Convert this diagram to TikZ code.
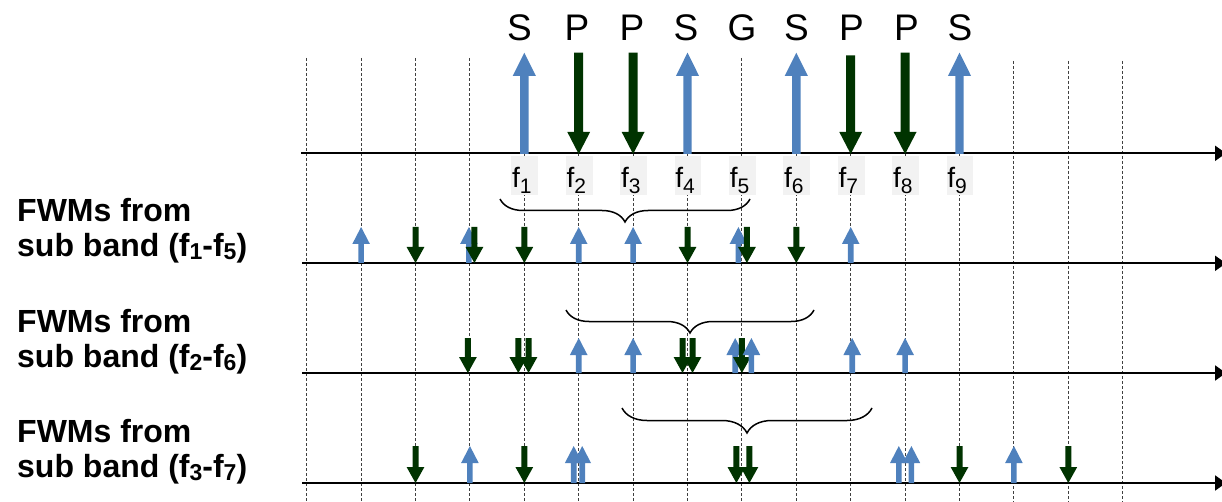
\documentclass[tikz,border=0pt]{standalone}
\usepackage{fontspec}
\setmainfont{Liberation Sans}
\usetikzlibrary{arrows.meta,decorations.pathreplacing}
\definecolor{sblue}{RGB}{79,129,189}
\definecolor{pgreen}{RGB}{0,51,0}
\definecolor{lblgray}{RGB}{242,242,242}
% up block arrow: x, base y, tip y, half shaft, half head, head length
\newcommand\UpA[6]{\fill[sblue] ({#1-#4},{#2}) -- ({#1-#4},{#3+#6}) -- ({#1-#5},{#3+#6}) -- ({#1},{#3}) -- ({#1+#5},{#3+#6}) -- ({#1+#4},{#3+#6}) -- ({#1+#4},{#2}) -- cycle;}
% down block arrow: x, top y, tip y, half shaft, half head, head length
\newcommand\DnA[6]{\fill[pgreen] ({#1-#4},{#2}) -- ({#1-#4},{#3-#6}) -- ({#1-#5},{#3-#6}) -- ({#1},{#3}) -- ({#1+#5},{#3-#6}) -- ({#1+#4},{#3-#6}) -- ({#1+#4},{#2}) -- cycle;}
% small arrows: x, base y, length
\newcommand\SU[3]{\UpA{#1}{#2}{#2-#3}{2.8}{8.8}{17}}
\newcommand\SD[3]{\DnA{#1}{#2-#3}{#2}{3}{8.9}{16}}
\newcommand\fsub[1]{\raisebox{-6pt}{\fontsize{21}{21}\selectfont #1}}
\newcommand\lsub[1]{\raisebox{-3pt}{\fontsize{23}{23}\selectfont #1}}
\begin{document}
\begin{tikzpicture}[x=1pt,y=-1pt,
  gridline/.style={black!75,line width=0.9pt,dash pattern=on 3pt off 2pt},
  axisline/.style={black,line width=2pt,-{Triangle[length=11pt,width=15pt]}},
  fbox/.style={fill=lblgray,minimum width=26.7pt,minimum height=39pt,inner sep=0pt},
  flabel/.style={inner sep=0pt,font=\fontsize{28}{28}\selectfont},
  toplbl/.style={inner sep=0pt,font=\fontsize{37}{37}\selectfont},
  rowlbl/.style={inner sep=0pt,font=\fontsize{32}{32}\selectfont\bfseries},
  bracepath/.style={black,line width=1.5pt,decorate,decoration={brace,mirror,amplitude=#1}}]
\useasboundingbox (0,0) rectangle (1222,502);
\clip (0,0) rectangle (1222,502);

% dashed grid
\foreach \k in {0,...,12} {\draw[gridline] ({306.7+54.4*\k},58) -- ({306.7+54.4*\k},502);}
\foreach \k in {13,14,15} {\draw[gridline] ({306.7+54.4*\k},61) -- ({306.7+54.4*\k},502);}

% axes
\coordinate (a0s) at (301,153.3); \coordinate (a0e) at (1226,153.3);
\coordinate (a1s) at (302,263.3); \coordinate (a1e) at (1226,263.3);
\coordinate (a2s) at (302,373); \coordinate (a2e) at (1226,373);
\coordinate (a3s) at (302,483); \coordinate (a3e) at (1226,483);
\draw[axisline] (a0s) -- (a0e);
\draw[axisline] (a1s) -- (a1e);
\draw[axisline] (a2s) -- (a2e);
\draw[axisline] (a3s) -- (a3e);

% frequency label boxes and labels
\foreach \i [evaluate=\i as \cx using {306.7+54.4*(\i+3)+0.5}] in {1,...,9} {
  \node[fbox] (b\i) at (\cx,175.5) {};
  \node[flabel,anchor=base west] (f\i) at (\cx-12.8,188) {f\fsub{\i}};
}

% big arrows
\UpA{524.3}{154}{52.7}{4.2}{11.6}{23.3}
\DnA{578.7}{52.7}{154}{4.5}{11.4}{22}
\DnA{633.1}{52.7}{154}{4.5}{11.4}{22}
\UpA{687.5}{154}{52.7}{4.2}{11.6}{23.3}
\UpA{796.3}{154}{52.7}{4.2}{11.6}{23.3}
\DnA{850.7}{55.5}{154}{4.5}{11.4}{22}
\DnA{905.1}{52.7}{154}{4.5}{11.4}{22}
\UpA{959.5}{154}{52.7}{4.2}{11.6}{23.3}

% top letters
\node[toplbl,anchor=base] (t1) at (519.5,40.7) {S};
\node[toplbl,anchor=base] (t2) at (577,40.7) {P};
\node[toplbl,anchor=base] (t3) at (632,40.7) {P};
\node[toplbl,anchor=base] (t4) at (686,40.7) {S};
\node[toplbl,anchor=base] (t5) at (742,40.7) {G};
\node[toplbl,anchor=base] (t6) at (796.5,40.7) {S};
\node[toplbl,anchor=base] (t7) at (851.5,40.7) {P};
\node[toplbl,anchor=base] (t8) at (906.5,40.7) {P};
\node[toplbl,anchor=base] (t9) at (960,40.7) {S};

% row 1 FWMs (f1-f5)
\SU{361.1}{263}{36}
\SD{415.5}{263}{36}
\SU{468.9}{263}{36}
\SD{474.4}{263}{36}
\SD{524.3}{263}{36}
\SU{578.7}{263}{36}
\SU{633.1}{263}{36}
\SD{687.5}{263}{36}
\SU{738.4}{263}{36}
\SD{746.9}{263}{36}
\SD{796.3}{263}{36}
\SU{850.7}{263}{36}

% row 2 FWMs (f2-f6)
\SD{467.9}{373}{35}
\SD{518.3}{373}{35}
\SD{528.5}{373}{35}
\SU{578.7}{373}{35}
\SU{633.1}{373}{35}
\SD{682.5}{373}{35}
\SD{692.5}{373}{35}
\SU{735.2}{373}{35}
\SD{741.9}{373}{35}
\SU{751.4}{373}{35}
\SU{852.2}{373}{35}
\SU{905.1}{373}{35}

% row 3 FWMs (f3-f7)
\SD{415.5}{483}{37}
\SU{469.9}{483}{37}
\SD{524.3}{483}{37}
\SU{573.7}{483}{37}
\SU{582.2}{483}{37}
\SD{736.4}{483}{37}
\SD{749.4}{483}{37}
\SU{898.8}{483}{37}
\SU{911.4}{483}{37}
\SD{959.5}{483}{37}
\SU{1013.9}{483}{37}
\SD{1068.3}{483}{37}

% braces
\coordinate (br1s) at (500,199); \coordinate (br1e) at (750,199);
\coordinate (br2s) at (566,310); \coordinate (br2e) at (814,310);
\coordinate (br3s) at (622,408); \coordinate (br3e) at (872,408);
\draw[bracepath=23pt] (br1s) -- (br1e);
\draw[bracepath=23pt] (br2s) -- (br2e);
\draw[bracepath=25pt] (br3s) -- (br3e);

% row labels
\node[rowlbl,anchor=base west] (r1a) at (17,222) {FWMs from};
\node[rowlbl,anchor=base west] (r1b) at (17,257) {sub band (f\lsub{1}-f\lsub{5})};
\node[rowlbl,anchor=base west] (r2a) at (17,332) {FWMs from};
\node[rowlbl,anchor=base west] (r2b) at (17,367) {sub band (f\lsub{2}-f\lsub{6})};
\node[rowlbl,anchor=base west] (r3a) at (17,442) {FWMs from};
\node[rowlbl,anchor=base west] (r3b) at (17,477) {sub band (f\lsub{3}-f\lsub{7})};
\end{tikzpicture}
\end{document}
